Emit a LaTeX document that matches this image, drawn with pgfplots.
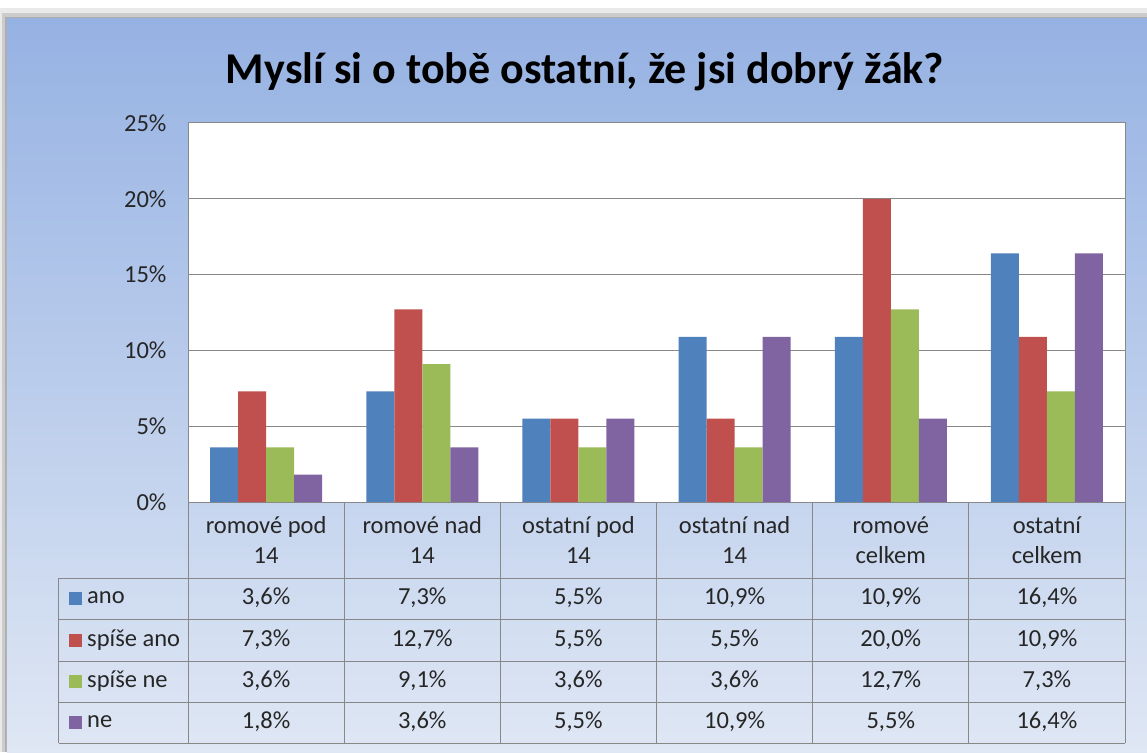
\documentclass[border=0pt]{standalone}
\usepackage{pgfplots}
\pgfplotsset{compat=1.18}
\usepackage{fontspec}
\setmainfont{Carlito}
\definecolor{cblue}{HTML}{4F81BD}
\definecolor{cred}{HTML}{C0504D}
\definecolor{cgreen}{HTML}{9BBB59}
\definecolor{cpurple}{HTML}{8064A2}
\definecolor{bgtop}{HTML}{96B2E3}
\definecolor{bgbot}{HTML}{DFE7F4}
\definecolor{gline}{HTML}{888888}
\definecolor{txt}{HTML}{262626}
\begin{document}
\begin{tikzpicture}
\begin{scope}[x=1pt,y=1pt,shift={(-188pt,-250pt)}]
\useasboundingbox (0,0) rectangle (1147,752);
% shadow
\fill[black!55,opacity=0.15] (0,0) rectangle (1147,744);
\fill[black!55,opacity=0.25] (2,0) rectangle (1147,739);
\fill[black!55,opacity=0.35] (5,0) rectangle (1147,735);
% background
\shade[top color=bgtop,bottom color=bgbot] (7,0) rectangle (1147,733);
% title
\node[font=\fontsize{44}{52}\selectfont\bfseries,text=black] at (585,680) {Myslí si o tobě ostatní, že jsi dobrý žák?};
\end{scope}
\begin{axis}[scale only axis,
  width=937pt,height=379pt,
  xmin=-0.5,xmax=5.5,ymin=0,ymax=25,
  ybar=0pt,bar width=28pt,
  xtick=\empty,
  ytick={0,5,10,15,20,25},
  yticklabels={0\%,5\%,10\%,15\%,20\%,25\%},
  yticklabel style={font=\fontsize{24.5}{28}\selectfont,text=txt,xshift=-18pt},
  major tick length=0pt,
  ymajorgrids,
  grid style={gline,line width=1pt},
  axis line style={gline,line width=1pt},
  axis background/.style={fill=white},
  clip=false]
\addplot[fill=cblue,draw=none] coordinates {(0,3.6) (1,7.3) (2,5.5) (3,10.9) (4,10.9) (5,16.4)};
\addplot[fill=cred,draw=none] coordinates {(0,7.3) (1,12.7) (2,5.5) (3,5.5) (4,20.0) (5,10.9)};
\addplot[fill=cgreen,draw=none] coordinates {(0,3.6) (1,9.1) (2,3.6) (3,3.6) (4,12.7) (5,7.3)};
\addplot[fill=cpurple,draw=none] coordinates {(0,1.8) (1,3.6) (2,5.5) (3,10.9) (4,5.5) (5,16.4)};
\end{axis}
\begin{scope}[x=1pt,y=1pt,shift={(-188pt,-250pt)}]
% data table
\begin{scope}[gline,line width=1pt]
\foreach \i in {0,...,6} {\draw ({188+\i*156.17},250) -- ({188+\i*156.17},9);}
\draw (59,174) -- (59,9);
\foreach \yy in {174,133,91,50,9} {\draw (59,\yy) -- (1125,\yy);}
\end{scope}
\foreach \lab [count=\c from 0] in {{romové pod\\14},{romové nad\\14},{ostatní pod\\14},{ostatní nad\\14},{romové\\celkem},{ostatní\\celkem}}
  {\node[align=center,font=\fontsize{24.5}{30}\selectfont,text=txt] at ({188+(\c+0.5)*156.17},212) {\lab};}
\foreach \nm/\col/\yy in {ano/cblue/154,spíše ano/cred/112,spíše ne/cgreen/71,ne/cpurple/30} {
  \fill[\col] (69,\yy-6.5) rectangle (82,\yy+6.5);
  \node[anchor=west,font=\fontsize{24.5}{28}\selectfont,text=txt,inner sep=0pt] at (87,\yy) {\nm};
}
\foreach \row/\yy in {{{3,6\%},{7,3\%},{5,5\%},{10,9\%},{10,9\%},{16,4\%}}/154,
                      {{7,3\%},{12,7\%},{5,5\%},{5,5\%},{20,0\%},{10,9\%}}/112,
                      {{3,6\%},{9,1\%},{3,6\%},{3,6\%},{12,7\%},{7,3\%}}/71,
                      {{1,8\%},{3,6\%},{5,5\%},{10,9\%},{5,5\%},{16,4\%}}/30} {
  \foreach \v [count=\c from 0] in \row {
    \node[font=\fontsize{24.5}{28}\selectfont,text=txt] at ({188+(\c+0.5)*156.17},\yy) {\v};
  }
}
\end{scope}
\end{tikzpicture}
\end{document}
